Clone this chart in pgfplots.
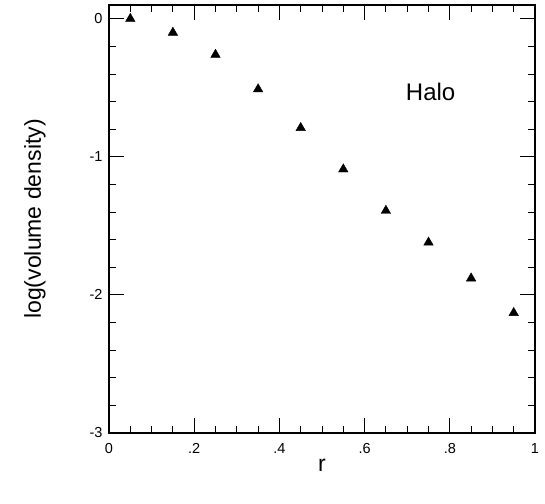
\documentclass[border=0pt]{standalone}
\usepackage{pgfplots}
\pgfplotsset{compat=1.18}
\usepackage{fontspec}
\setmainfont{Liberation Sans}
\begin{document}
\begin{tikzpicture}
\begin{axis}[
  scale only axis, width=426pt, height=428pt,
  xmin=0, xmax=1, ymin=-3, ymax=0.1,
  xtick={0,0.2,0.4,0.6,0.8,1}, xticklabels={0,.2,.4,.6,.8,1},
  minor xtick={0.05,0.1,0.15,0.25,0.3,0.35,0.45,0.5,0.55,0.65,0.7,0.75,0.85,0.9,0.95},
  ytick={-3,-2,-1,0}, yticklabels={-3,-2,-1,0},
  minor ytick={-2.8,-2.6,-2.4,-2.2,-1.8,-1.6,-1.4,-1.2,-0.8,-0.6,-0.4,-0.2},
  tick align=inside, major tick length=15pt, minor tick length=7pt,
  axis line style={line width=1.2pt},
  every tick/.style={black, line width=1pt},
  /pgf/number format/assume math mode=true,
  every tick label/.style={font=\fontsize{14.5}{14.5}\selectfont},
  xticklabel style={yshift=-7pt},
  yticklabel style={xshift=-3pt},
  xlabel={r}, ylabel={log(volume density)},
  label style={font=\fontsize{23}{23}\selectfont},
  xlabel style={at={(axis description cs:0.5,-0.075)}, anchor=center},
  ylabel style={at={(axis description cs:-0.174,0.5)}, anchor=center},
  clip=false,
]
\addplot[only marks, mark=triangle*, mark size=5.5pt, black] coordinates {
  (0.05,0.00) (0.15,-0.10) (0.25,-0.26) (0.35,-0.51) (0.45,-0.79)
  (0.55,-1.09) (0.65,-1.39) (0.75,-1.62) (0.85,-1.88) (0.95,-2.13)
};
\node[font=\fontsize{24}{24}\selectfont] at (axis cs:0.755,-0.53) {Halo};
\end{axis}
\path ([shift={(-109pt,-71pt)}]current axis.south west) rectangle ([shift={(10pt,5pt)}]current axis.north east);
\end{tikzpicture}
\end{document}
